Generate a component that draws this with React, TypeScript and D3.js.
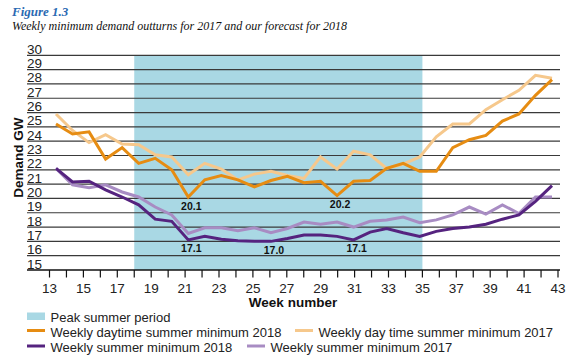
import React from "react";
import * as d3 from "d3";

// weeks 13..43
const weeks = d3.range(13, 44);

const daytime2018 = [25.2, 24.5, 24.65, 22.75, 23.55, 22.45, 22.8, 22.0, 20.1, 21.3, 21.6, 21.3, 20.8, 21.25, 21.55, 21.1, 21.2, 20.2, 21.2, 21.25, 22.1, 22.45, 21.9, 21.9, 23.55, 24.1, 24.4, 25.4, 25.9, 27.2, 28.3];
const daytime2017 = [25.9, 24.75, 23.9, 24.45, 23.8, 23.75, 23.05, 22.9, 21.65, 22.45, 22.05, 21.3, 21.7, 21.9, 21.6, 21.4, 22.9, 22.05, 23.3, 23.05, 22.1, 22.4, 22.9, 24.3, 25.2, 25.2, 26.2, 26.9, 27.55, 28.6, 28.4];
const minimum2018 = [22.1, 21.15, 21.2, 20.6, 20.1, 19.55, 18.55, 18.4, 17.1, 17.35, 17.15, 17.05, 17.0, 17.0, 17.2, 17.45, 17.45, 17.35, 17.1, 17.65, 17.9, 17.6, 17.35, 17.7, 17.9, 18.0, 18.2, 18.55, 18.85, 19.8, 20.9];
const minimum2017 = [22.1, 20.95, 20.75, 20.95, 20.45, 20.1, 19.4, 18.85, 17.55, 17.95, 17.95, 17.75, 17.95, 17.6, 17.9, 18.35, 18.2, 18.35, 18.0, 18.4, 18.5, 18.7, 18.3, 18.5, 18.85, 19.4, 18.9, 19.55, 18.95, 20.1, 20.1];

const peakPeriod = [18, 35];
const yTicks = d3.range(15, 31);
const xLabels = d3.range(13, 44, 2);

const annotations = [
  { week: 21, value: 20.1, text: "20.1" },
  { week: 21, value: 17.1, text: "17.1" },
  { week: 26, value: 17.0, text: "17.0" },
  { week: 30, value: 20.2, text: "20.2" },
  { week: 31, value: 17.1, text: "17.1" },
];

const series = [
  { name: "Weekly day time summer minimum 2017", values: daytime2017, color: "#f6c88c" },
  { name: "Weekly summer minimum 2017", values: minimum2017, color: "#a88cc3" },
  { name: "Weekly daytime summer minimum 2018", values: daytime2018, color: "#e68c12" },
  { name: "Weekly summer minimum 2018", values: minimum2018, color: "#55237f" },
];

const W = 584;
const H = 363;
const sans = "'Liberation Sans', Arial, sans-serif";
const serif = "'Liberation Serif', 'Times New Roman', serif";

export default function App() {
  const left = 27;
  const right = 560;
  const x = d3.scaleLinear().domain([13, 43]).range([49.5, 558]);
  // the plotted points sit a little inside the tick range in the original
  const xd = d3.scaleLinear().domain([13, 43]).range([56, 552]);
  const y = d3.scaleLinear().domain([15, 30]).range([270, 55.3]);

  const line = d3
    .line<number>()
    .x((_, i) => xd(weeks[i]))
    .y((d) => y(d));

  const legendRows = [
    [{ label: "Weekly daytime summer minimum 2018", color: "#e68c12", x: 27 }, { label: "Weekly day time summer minimum 2017", color: "#f6c88c", x: 295 }],
    [{ label: "Weekly summer minimum 2018", color: "#55237f", x: 27 }, { label: "Weekly summer minimum 2017", color: "#a88cc3", x: 247 }],
  ];

  return (
    <svg width={W} height={H} style={{ position: "absolute", left: 0, top: 0, background: "#fff" }}>
      <text x={12} y={15.5} fontFamily={serif} fontStyle="italic" fontWeight="bold" fontSize={13} fill="#2a6ab3">
        Figure 1.3
      </text>
      <text x={12} y={30} fontFamily={serif} fontStyle="italic" fontSize={12} fill="#111">
        Weekly minimum demand outturns for 2017 and our forecast for 2018
      </text>

      <rect
        x={x(peakPeriod[0])}
        y={y(30)}
        width={x(peakPeriod[1]) - x(peakPeriod[0])}
        height={y(15) - y(30)}
        fill="#a9d8e4"
      />

      {yTicks.map((t) => (
        <g key={t}>
          <line x1={left} x2={right} y1={y(t)} y2={y(t)} stroke={t === 15 ? "#111" : "#3a3a3a"} strokeWidth={t === 15 ? 1.6 : 1.2} />
          <text x={left} y={y(t) - 1.5} fontFamily={sans} fontSize={13.5} fill="#222">
            {t}
          </text>
        </g>
      ))}

      {weeks.map((w) => (
        <line key={w} x1={x(w)} x2={x(w)} y1={y(15)} y2={y(15) + 7.5} stroke="#111" strokeWidth={1.2} />
      ))}
      {xLabels.map((w) => (
        <text key={w} x={x(w)} y={293} textAnchor="middle" fontFamily={sans} fontSize={13.5} fill="#222">
          {w}
        </text>
      ))}

      <text x={293} y={307} textAnchor="middle" fontFamily={sans} fontWeight="bold" fontSize={13.5} fill="#111">
        Week number
      </text>
      <text
        transform={`translate(23, ${(y(15) + y(30)) / 2 - 5}) rotate(-90)`}
        textAnchor="middle"
        fontFamily={sans}
        fontWeight="bold"
        fontSize={13.5}
        fill="#111"
      >
        Demand GW
      </text>

      {series.map((s) => (
        <path key={s.name} d={line(s.values) || ""} fill="none" stroke={s.color} strokeWidth={3} strokeLinejoin="miter" />
      ))}

      {annotations.map((a, i) => (
        <text
          key={i}
          x={xd(a.week) + 3}
          y={y(a.value) + 12.5}
          textAnchor="middle"
          fontFamily={sans}
          fontWeight="bold"
          fontSize={10.5}
          fill="#111"
        >
          {a.text}
        </text>
      ))}

      <rect x={27} y={312.5} width={18} height={7.5} fill="#a9d8e4" />
      <text x={50.5} y={321.5} fontFamily={sans} fontSize={13} fill="#222">
        Peak summer period
      </text>
      {legendRows.map((row, r) =>
        row.map((item) => (
          <g key={item.label}>
            <line x1={item.x} x2={item.x + 18} y1={330.5 + r * 15.5} y2={330.5 + r * 15.5} stroke={item.color} strokeWidth={3} />
            <text x={item.x + 23.5} y={336.5 + r * 15.5} fontFamily={sans} fontSize={13} fill="#222">
              {item.label}
            </text>
          </g>
        ))
      )}
    </svg>
  );
}
